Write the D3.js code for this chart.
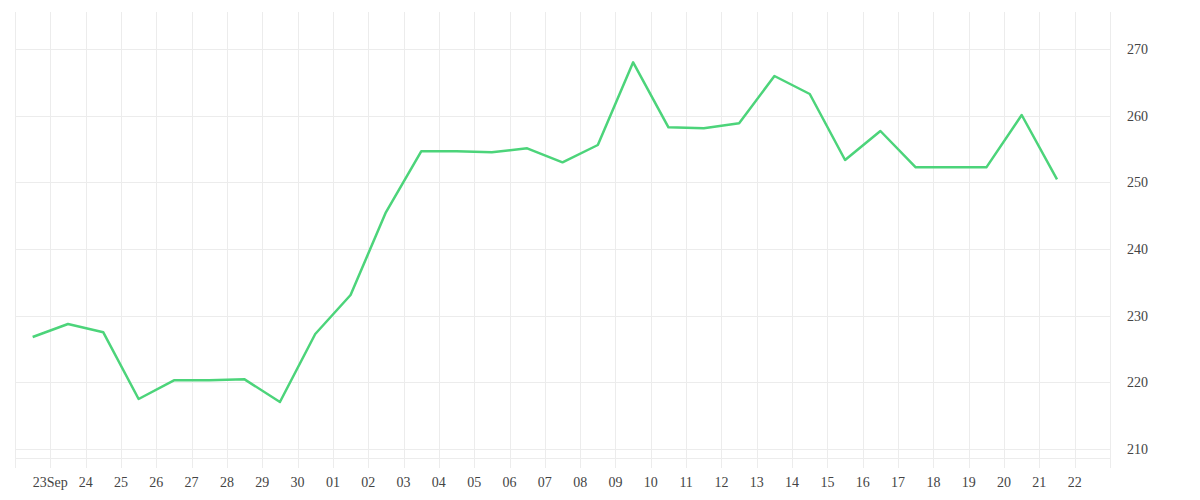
<!DOCTYPE html>
<html>
<head>
<meta charset="utf-8">
<script src="https://cdn.jsdelivr.net/npm/d3@7"></script>
<style>
  body { margin: 0; background: #fff; }
  text { font-family: "Liberation Serif", serif; font-size: 14px; fill: #444; }
</style>
</head>
<body>
<div id="chart"></div>
<script>
// daily values, plotted at midday
var days = ["2023-09-22","2023-09-23","2023-09-24","2023-09-25","2023-09-26","2023-09-27",
  "2023-09-28","2023-09-29","2023-09-30","2023-10-01","2023-10-02","2023-10-03","2023-10-04",
  "2023-10-05","2023-10-06","2023-10-07","2023-10-08","2023-10-09","2023-10-10","2023-10-11",
  "2023-10-12","2023-10-13","2023-10-14","2023-10-15","2023-10-16","2023-10-17","2023-10-18",
  "2023-10-19","2023-10-20","2023-10-21"];
var values = [226.8, 228.75, 227.5, 217.5, 220.3, 220.3, 220.45, 217.05, 227.25, 233.1,
  245.5, 254.65, 254.65, 254.5, 255.1, 253.0, 255.6, 268.0, 258.25, 258.1,
  258.85, 265.95, 263.25, 253.35, 257.7, 252.25, 252.25, 252.25, 260.1, 250.45];
var yTicks = [210, 220, 230, 240, 250, 260, 270];
var xStart = "2023-09-22", xEnd = "2023-10-23";

var width = 1200, height = 500;
var margin = {top: 12, right: 90, bottom: 42, left: 15};

var svg = d3.select("#chart").append("svg")
    .attr("width", width)
    .attr("height", height);

var parse = d3.utcParse("%Y-%m-%d");
var data = days.map(function(d, i) {
  return {date: d3.utcHour.offset(parse(d), 12), value: values[i]};
});

var x = d3.scaleUtc()
    .domain([parse(xStart), parse(xEnd)])
    .range([margin.left, width - margin.right]);

var y = d3.scaleLinear()
    .domain([208.65, 275.55])
    .range([height - margin.bottom, margin.top]);

var allDays = d3.utcDay.range(parse(xStart), d3.utcDay.offset(parse(xEnd), 1));

// vertical grid lines (extend below the plot like ticks)
svg.append("g")
  .selectAll("line")
  .data(allDays)
  .enter()
  .append("line")
    .attr("x1", function(d) { return Math.round(x(d)) + 0.5; })
    .attr("x2", function(d) { return Math.round(x(d)) + 0.5; })
    .attr("y1", margin.top)
    .attr("y2", height - margin.bottom + 10)
    .attr("stroke", "#ececec")
    .attr("stroke-width", 1);

// horizontal grid lines
svg.append("g")
  .selectAll("line")
  .data(yTicks)
  .enter()
  .append("line")
    .attr("x1", x.range()[0])
    .attr("x2", x.range()[1])
    .attr("y1", function(d) { return Math.round(y(d)) + 0.5; })
    .attr("y2", function(d) { return Math.round(y(d)) + 0.5; })
    .attr("stroke", "#ececec");

svg.append("line")
    .attr("x1", x.range()[0])
    .attr("x2", x.range()[1])
    .attr("y1", height - margin.bottom + 0.5)
    .attr("y2", height - margin.bottom + 0.5)
    .attr("stroke", "#ececec");

// x axis labels
var labelDays = allDays.slice(1, allDays.length - 1);
var fmt = d3.utcFormat("%d");
svg.append("g")
  .selectAll("text")
  .data(labelDays)
  .enter()
  .append("text")
    .attr("x", function(d) { return x(d); })
    .attr("y", height - 13)
    .attr("text-anchor", "middle")
    .text(function(d, i) { return i === 0 ? fmt(d) + "Sep" : fmt(d); });

// y axis labels on the right
svg.append("g")
  .selectAll("text")
  .data(yTicks)
  .enter()
  .append("text")
    .attr("x", x.range()[1] + 17)
    .attr("y", function(d) { return y(d); })
    .attr("dy", "0.35em")
    .text(function(d) { return d; });

var line = d3.line()
    .x(function(d) { return x(d.date); })
    .y(function(d) { return y(d.value); });

svg.append("path")
    .datum(data)
    .attr("fill", "none")
    .attr("stroke", "#4cd47a")
    .attr("stroke-width", 2.5)
    .attr("stroke-linejoin", "round")
    .attr("d", line);
</script>
</body>
</html>
